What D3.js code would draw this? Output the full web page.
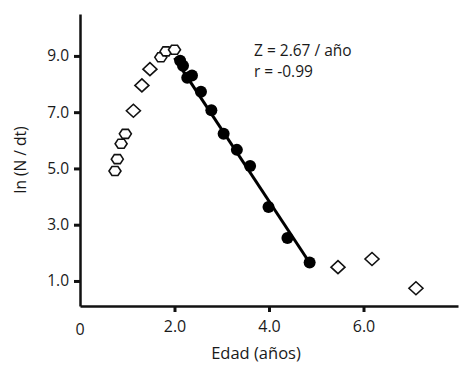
<!DOCTYPE html>
<html>
<head>
<meta charset="utf-8">
<script src="https://cdn.jsdelivr.net/npm/d3@7"></script>
<style>
  body { margin: 0; background: #fff; }
  text { font-family: 'Open Sans', sans-serif; fill: #1a1a1a; }
</style>
</head>
<body>
<div id="chart"></div>
<script>
// ages (x) and ln(N/dt) (y)
let hexAge = [0.74, 0.79, 0.87, 0.96, 1.71, 1.82, 2.0]
let hexLn = [4.91, 5.33, 5.88, 6.23, 8.95, 9.16, 9.22]

let diamondAge = [1.13, 1.31, 1.48, 5.46, 6.18, 7.11]
let diamondLn = [7.05, 7.95, 8.53, 1.49, 1.78, 0.74]

let filledAge = [2.12, 2.18, 2.27, 2.37, 2.56, 2.78, 3.04, 3.32, 3.6, 3.99, 4.39, 4.86]
let filledLn = [8.83, 8.65, 8.22, 8.3, 7.73, 7.07, 6.23, 5.66, 5.09, 3.63, 2.53, 1.66]

let fitAge = [2.0, 4.87]
let fitLn = [8.93, 1.62]

let xTicks = [0, 2, 4, 6]
let xTickLabels = ['0', '2.0', '4.0', '6.0']
let yTicks = [1, 3, 5, 7, 9]
let yTickLabels = ['1.0', '3.0', '5.0', '7.0', '9.0']

let width = 475
let height = 365

let svg = d3
  .select('#chart')
  .append('svg')
  .attr('width', width)
  .attr('height', height)

let x = d3.scaleLinear().domain([0, 8]).range([80, 458])
let y = d3.scaleLinear().domain([0.11, 10.49]).range([306, 14])

// axes
let xAxis = d3
  .axisBottom(x)
  .tickValues(xTicks.slice(1))
  .tickFormat((d, i) => xTickLabels[i + 1])
  .tickSize(6)
  .tickSizeOuter(0)

let xg = svg
  .append('g')
  .attr('transform', `translate(0, ${y.range()[0]})`)
  .call(xAxis)
xg.select('.domain').attr('stroke', '#111').attr('stroke-width', 2.5)
xg.selectAll('.tick line').attr('stroke', '#111').attr('stroke-width', 3)
xg.selectAll('.tick text')
  .attr('font-size', '16px')
  .attr('dy', '1.05em')
  .attr('fill', '#1a1a1a')
  .style('font-family', "'Open Sans', sans-serif")

// "0" label sits under the origin, no tick mark
svg
  .append('text')
  .attr('x', x(0))
  .attr('y', y.range()[0] + 29)
  .attr('text-anchor', 'middle')
  .attr('font-size', '16px')
  .text(xTickLabels[0])

let yAxis = d3
  .axisLeft(y)
  .tickValues(yTicks)
  .tickFormat((d, i) => yTickLabels[i])
  .tickSize(6)
  .tickSizeOuter(0)

let yg = svg
  .append('g')
  .attr('transform', `translate(${x.range()[0]}, 0)`)
  .call(yAxis)
yg.select('.domain').attr('stroke', '#111').attr('stroke-width', 2.5)
yg.selectAll('.tick line').attr('stroke', '#111').attr('stroke-width', 3)
yg.selectAll('.tick text')
  .attr('font-size', '15.5px')
  .attr('x', -11)
  .attr('fill', '#1a1a1a')
  .style('font-family', "'Open Sans', sans-serif")

// axis titles
svg
  .append('text')
  .attr('x', 256)
  .attr('y', 359)
  .attr('text-anchor', 'middle')
  .attr('font-size', '16.5px')
  .text('Edad (años)')

svg
  .append('text')
  .attr('transform', 'translate(26, 160) rotate(-90)')
  .attr('text-anchor', 'middle')
  .attr('font-size', '15.5px')
  .text('ln (N / dt)')

// regression line
svg
  .append('line')
  .attr('x1', x(fitAge[0]))
  .attr('y1', y(fitLn[0]))
  .attr('x2', x(fitAge[1]))
  .attr('y2', y(fitLn[1]))
  .attr('stroke', '#000')
  .attr('stroke-width', 3)

// open hexagons
let hexPath = d3.line()(d3.range(6).map(i => {
  let a = (Math.PI / 3) * i
  return [6 * Math.cos(a), 5.2 * Math.sin(a)]
})) + 'Z'

svg
  .selectAll('.hex')
  .data(hexAge)
  .enter()
  .append('path')
  .attr('class', 'hex')
  .attr('d', hexPath)
  .attr('transform', (d, i) => `translate(${x(d)}, ${y(hexLn[i])})`)
  .attr('fill', '#fff')
  .attr('stroke', '#111')
  .attr('stroke-width', 1.6)

// open diamonds
let diamondPath = 'M0,-6.5L7,0L0,6.5L-7,0Z'

svg
  .selectAll('.diamond')
  .data(diamondAge)
  .enter()
  .append('path')
  .attr('class', 'diamond')
  .attr('d', diamondPath)
  .attr('transform', (d, i) => `translate(${x(d)}, ${y(diamondLn[i])})`)
  .attr('fill', '#fff')
  .attr('stroke', '#111')
  .attr('stroke-width', 1.6)

// filled circles
svg
  .selectAll('.filled')
  .data(filledAge)
  .enter()
  .append('circle')
  .attr('class', 'filled')
  .attr('cx', d => x(d))
  .attr('cy', (d, i) => y(filledLn[i]))
  .attr('r', 6)
  .attr('fill', '#000')

// annotation
svg
  .append('text')
  .attr('x', 254)
  .attr('y', 56)
  .attr('font-size', '15.5px')
  .text('Z = 2.67 / año')

svg
  .append('text')
  .attr('x', 254)
  .attr('y', 77)
  .attr('font-size', '15.5px')
  .text('r = -0.99')
</script>
</body>
</html>
